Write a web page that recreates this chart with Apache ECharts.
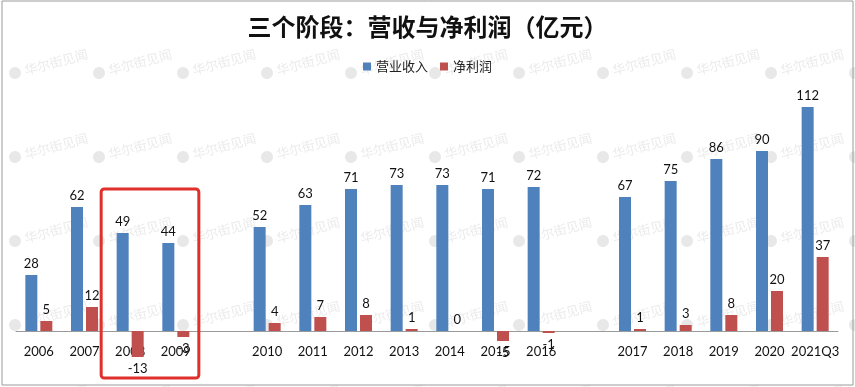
<!DOCTYPE html>
<html>
<head>
<meta charset="utf-8">
<script src="https://cdn.jsdelivr.net/npm/echarts@6/dist/echarts.min.js"></script>
<style>html,body{margin:0;padding:0;background:#fff}#c{width:855px;height:387px}</style>
</head>
<body>
<div id="c"></div>
<script>
var categories = ['2006','2007','2008','2009','','2010','2011','2012','2013','2014','2015','2016','','2017','2018','2019','2020','2021Q3'];
var revenue = [28,62,49,44,'-',52,63,71,73,73,71,72,'-',67,75,86,90,112];
var profit = [5,12,-13,-3,'-',4,7,8,1,0,-5,-1,'-',1,3,8,20,37];
var seriesNames = ['营业收入','净利润'];
var titleText = '三个阶段：营收与净利润（亿元）';

var numFont = 'Lato, "Noto Sans", sans-serif';
function toData(arr){
  return arr.map(function(v){
    if (v === '-') return '-';
    return {value: v, label: {position: v < 0 ? 'bottom' : 'top'}};
  });
}

var chart = echarts.init(document.getElementById('c'));

var wm = [];
for (var r = 0; r < 5; r++) {
  for (var k = 0; k < 11; k++) {
    wm.push({
      type: 'group', x: 15 + 84 * k, y: 73 + 84 * r, rotation: 0.26, z: 0, silent: true,
      children: [
        {type: 'circle', shape: {cx: 0, cy: 0, r: 6}, style: {fill: '#e8e8e8'}},
        {type: 'text', x: 10, y: 0, style: {text: '华尔街见闻', fill: '#ebebeb', font: '13px "Noto Sans CJK SC"', verticalAlign: 'middle'}}
      ]
    });
  }
}
var border = {type: 'rect', shape: {x: 2, y: 1, width: 851, height: 384}, style: {fill: 'none', stroke: '#9a9a9a', lineWidth: 1}, z: 10, silent: true};

var option = {
  backgroundColor: '#fff',
  animation: false,
  title: {
    text: titleText, left: 'center', top: 10,
    textStyle: {fontSize: 24, fontWeight: 'bold', color: '#111', fontFamily: '"Noto Sans CJK SC"'}
  },
  legend: {
    data: seriesNames, top: 55, left: 'center', itemWidth: 8, itemHeight: 8, itemGap: 12,
    icon: 'rect',
    textStyle: {fontSize: 13, color: '#222', fontFamily: '"Noto Sans CJK SC"'}
  },
  grid: {left: 16, right: 17, top: 91, bottom: 56, containLabel: false, outerBoundsMode: 'none'},
  xAxis: {
    type: 'category', data: categories,
    axisTick: {show: false},
    axisLine: {onZero: false, lineStyle: {color: '#9a9a9a', width: 1}},
    axisLabel: {interval: 0, margin: 14, fontSize: 13, color: '#111', fontFamily: numFont}
  },
  yAxis: {
    type: 'value', min: 0, max: 120, show: false, splitLine: {show: false}
  },
  series: [
    {
      name: seriesNames[0], type: 'bar', data: toData(revenue), barWidth: 12, barGap: '25%', clip: false,
      itemStyle: {color: '#4F81BD'},
      label: {show: true, distance: 5, fontSize: 13, color: '#111', fontFamily: numFont}
    },
    {
      name: seriesNames[1], type: 'bar', data: toData(profit), barWidth: 12, barGap: '25%', clip: false,
      itemStyle: {color: '#C0504D'},
      label: {show: true, distance: 5, fontSize: 13, color: '#111', fontFamily: numFont}
    }
  ],
  graphic: wm.concat([border])
};
chart.setOption(option);

// annotation box around the 2008–2009 group
var p08 = chart.convertToPixel({xAxisIndex: 0, yAxisIndex: 0}, ['2008', 71]);
var p09 = chart.convertToPixel({xAxisIndex: 0, yAxisIndex: 0}, ['2009', -23.5]);
chart.setOption({
  graphic: wm.concat([
    border,
    {type: 'rect', shape: {x: p08[0] - 29, y: p08[1], width: (p09[0] + 23) - (p08[0] - 29), height: p09[1] - p08[1], r: 3},
     style: {fill: 'none', stroke: '#E0302B', lineWidth: 3}, z: 20, silent: true}
  ])
});
</script>
</body>
</html>
